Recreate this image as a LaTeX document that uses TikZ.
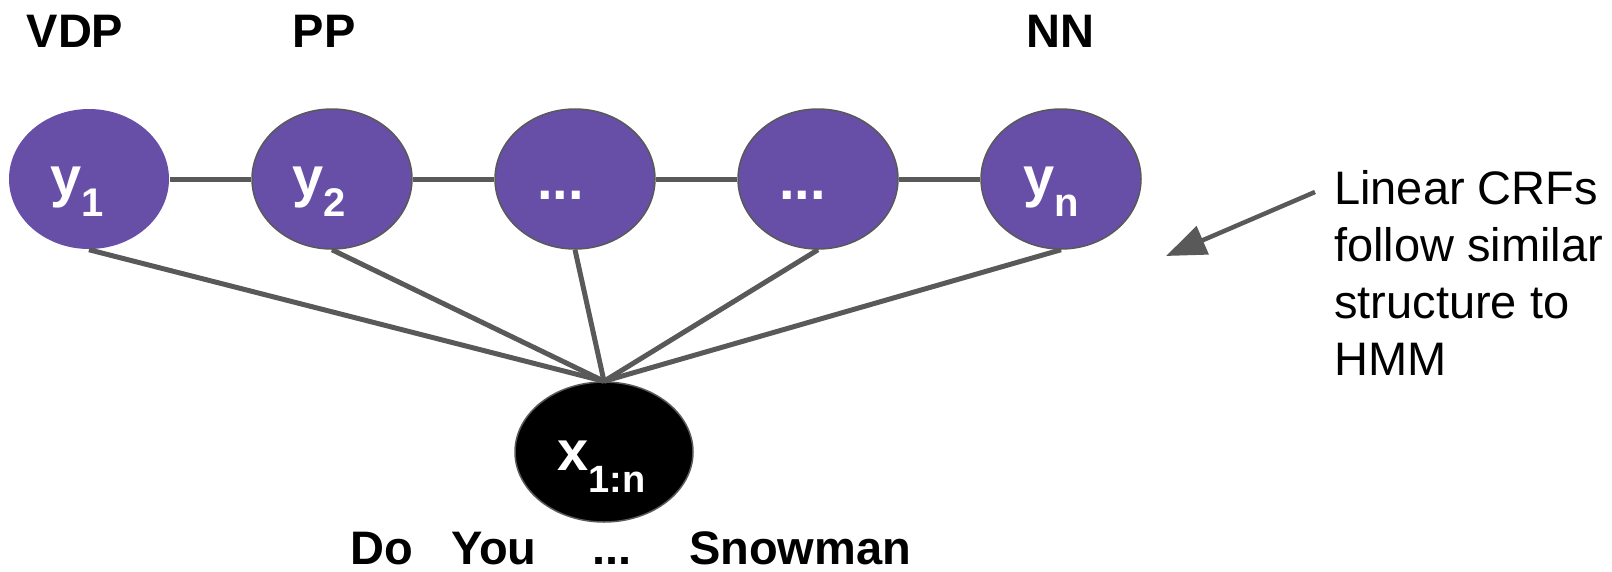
\documentclass[tikz,border=0pt]{standalone}
\usepackage{fontspec}
\setmainfont{Liberation Sans}
\usetikzlibrary{shapes.geometric,arrows.meta}
\definecolor{nodepurple}{HTML}{674EA7}
\definecolor{linegray}{HTML}{595959}
\tikzset{
  ynode/.style={ellipse, fill=nodepurple, draw=linegray, line width=1.5pt, minimum width=160pt, minimum height=140pt, inner sep=0pt},
  xnode/.style={ellipse, fill=black, draw=linegray, line width=1.5pt, minimum width=178pt, minimum height=140pt, inner sep=0pt},
  conn/.style={draw=linegray, line width=5pt},
  intext/.style={anchor=base west, inner sep=0pt, text=white, font=\fontsize{56}{56}\selectfont\bfseries},
  tag/.style={anchor=base, inner sep=0pt, text depth=0pt, font=\fontsize{47}{47}\selectfont\bfseries},
}
\newcommand{\mysub}[1]{\raisebox{-20pt}{\fontsize{40}{40}\selectfont\bfseries #1}}
\begin{document}
\begin{tikzpicture}[x=1pt,y=-1pt]
\useasboundingbox (0,0) rectangle (1612,571);
% nodes
\node[ynode, draw=none] (y1) at (89,179) {};
\node[ynode] (y2) at (332,179) {};
\node[ynode] (y3) at (575,179) {};
\node[ynode] (y4) at (818,179) {};
\node[ynode] (yn) at (1061,179) {};
\node[xnode] (x) at (604,452) {};
% edges
\draw[conn] (y1.east) -- (y2.west);
\draw[conn] (y2.east) -- (y3.west);
\draw[conn] (y3.east) -- (y4.west);
\draw[conn] (y4.east) -- (yn.west);
\draw[conn] (y1.south) -- (x.north);
\draw[conn] (y2.south) -- (x.north);
\draw[conn] (y3.south) -- (x.north);
\draw[conn] (y4.south) -- (x.north);
\draw[conn] (yn.south) -- (x.north);
% node texts
\node[intext] (t1) at (50,196) {y\mysub{1}};
\node[intext] (t2) at (292,196) {y\mysub{2}};
\node[intext] (t3) at (537,199) {...};
\node[intext] (t4) at (779,199) {...};
\node[intext] (tn) at (1023,196) {y\mysub{n}};
\node[intext] (tx) at (557,470) {x\raisebox{-22pt}{\fontsize{38}{38}\selectfont\bfseries 1:n}};
% tags
\node[tag] (vdp) at (75,47) {VDP};
\node[tag] (pp) at (324,47) {PP};
\node[tag] (nn) at (1060,47) {NN};
% words
\node[tag] (w1) at (382,564) {Do};
\node[tag] (w2) at (494,564) {You};
\node[tag] (w3) at (612,564) {...};
\node[tag] (w4) at (800,564) {Snowman};
% annotation
\node[anchor=base west, inner sep=0pt, align=left, font=\fontsize{47}{56.7}\selectfont] (note) at (1334,375) {Linear CRFs\\follow similar\\structure to\\HMM};
\coordinate (arrstart) at (1315,192);
\coordinate (arrend) at (1166,256);
\draw[conn, line width=4.5pt, -{Triangle[length=40pt,width=30pt]}] (arrstart) -- (arrend);
\end{tikzpicture}
\end{document}
